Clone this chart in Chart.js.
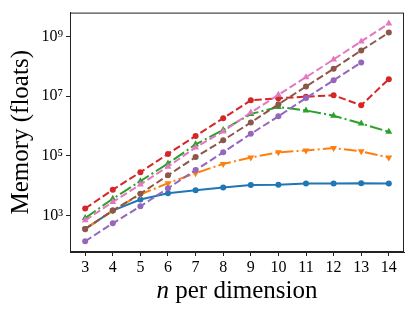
<!DOCTYPE html>
<html>
<head>
<meta charset="utf-8">
<script src="https://cdn.jsdelivr.net/npm/chart.js@4/dist/chart.umd.min.js"></script>
<style>
html,body{margin:0;padding:0;background:#fff;}
#wrap{width:415px;height:312px;position:relative;}
</style>
</head>
<body>
<div id="wrap"><canvas id="c" width="415" height="312"></canvas></div>
<script>
const nValues = [3,4,5,6,7,8,9,10,11,12,13,14];
const yTickValues = [1e3,1e5,1e7,1e9];
const yTickLabels = ['10³','10⁵','10⁷','10⁹'];

const blueSeries   = [350,1440,3400,5500,7000,8600,10500,10700,11700,11700,12000,11700];
const orangeSeries = [350,1440,5000,12000,26000,53000,87000,130000,150000,180000,140000,87000];
const greenSeries  = [810,3600,14000,55000,240000,730000,2500000,4300000,3300000,2200000,1200000,630000];
const redSeries    = [1700,7200,28000,115000,460000,1800000,7200000,8500000,9500000,10700000,4900000,37000000];
const purpleSeries = [135,540,2000,8100,33000,130000,540000,2100000,8600000,34000000,135000000,null];
const brownSeries  = [350,1440,5300,22000,90000,330000,1300000,5300000,21000000,83000000,340000000,1350000000];
const pinkSeries   = [680,2800,10800,43000,190000,650000,2800000,11000000,43000000,170000000,680000000,2700000000];

const serif = "'Liberation Serif', 'DejaVu Serif', serif";
const DASH = [7.4,3.2];
const DASHDOT = [12.8,3.2,2,3.2];

function pts(arr){ return nValues.map((n,i)=>({x:n,y:arr[i]})); }
function ds(label, data, color, dash, style, rot){
  return {label, data:pts(data), borderColor:color, backgroundColor:color,
    borderWidth:2, borderDash:dash, pointStyle:style, pointRotation:rot||0,
    pointRadius: style==='circle'?3:4, pointBorderWidth:0, tension:0, spanGaps:false};
}

const frame = {
  id:'frame',
  afterDraw(chart){
    const {ctx, chartArea:a} = chart;
    ctx.save();
    ctx.strokeStyle = '#222';
    ctx.lineWidth = 1;
    ctx.strokeRect(a.left+0.5, a.top+0.5, a.right-a.left-1, a.bottom-a.top-1);
    // x title with italic n
    ctx.fillStyle = '#000';
    ctx.textBaseline = 'middle';
    const f1 = "italic 25px " + serif, f2 = "25px " + serif;
    ctx.font = f1; const w1 = ctx.measureText('n').width;
    ctx.font = f2; const t2 = ' per dimension'; const w2 = ctx.measureText(t2).width;
    const cx = (a.left+a.right)/2, y = 291;
    let x = cx - (w1+w2)/2;
    ctx.textAlign = 'left';
    ctx.font = f1; ctx.fillText('n', x, y);
    ctx.font = f2; ctx.fillText(t2, x+w1, y);
    ctx.restore();
  }
};

new Chart(document.getElementById('c'), {
  type:'line',
  data:{ datasets:[
    ds('blue', blueSeries, '#1f77b4', [], 'circle'),
    ds('orange', orangeSeries, '#ff7f0e', DASHDOT, 'triangle', 180),
    ds('green', greenSeries, '#2ca02c', DASHDOT, 'triangle'),
    ds('red', redSeries, '#d62728', DASH, 'circle'),
    ds('purple', purpleSeries, '#9467bd', DASH, 'circle'),
    ds('brown', brownSeries, '#8c564b', DASH, 'circle'),
    ds('pink', pinkSeries, '#e377c2', DASH, 'triangle')
  ].reverse()},
  options:{
    responsive:false, animation:false, devicePixelRatio:1,
    layout:{padding:{left:0,right:11,top:11,bottom:0}},
    plugins:{legend:{display:false}, tooltip:{enabled:false}},
    scales:{
      x:{type:'linear', min:2.45, max:14.55,
        afterBuildTicks(s){ s.ticks = nValues.map(v=>({value:v})); },
        afterFit(s){ s.height = 60; },
        ticks:{color:'#000', font:{family:serif, size:16}, padding:2, maxRotation:0,
          callback:(v)=>String(v)},
        grid:{display:true, drawOnChartArea:false, drawTicks:true, tickLength:4, color:'#222'},
        border:{display:true, color:'#222', width:1}
      },
      y:{type:'logarithmic', min:Math.pow(10,1.77), max:Math.pow(10,9.8),
        afterBuildTicks(s){ s.ticks = yTickValues.map(v=>({value:v})); },
        afterFit(s){ s.width = 70; },
        ticks:{color:'#000', font:{family:serif, size:16}, padding:3,
          callback:(v)=>{ const i = yTickValues.indexOf(v); return i>=0?yTickLabels[i]:''; }},
        grid:{display:true, drawOnChartArea:false, drawTicks:true, tickLength:4, color:'#222'},
        border:{display:true, color:'#222', width:1},
        title:{display:true, text:'Memory (floats)', color:'#000', font:{family:serif, size:25}, padding:{top:6,bottom:0}}
      }
    }
  },
  plugins:[frame]
});
</script>
</body>
</html>
